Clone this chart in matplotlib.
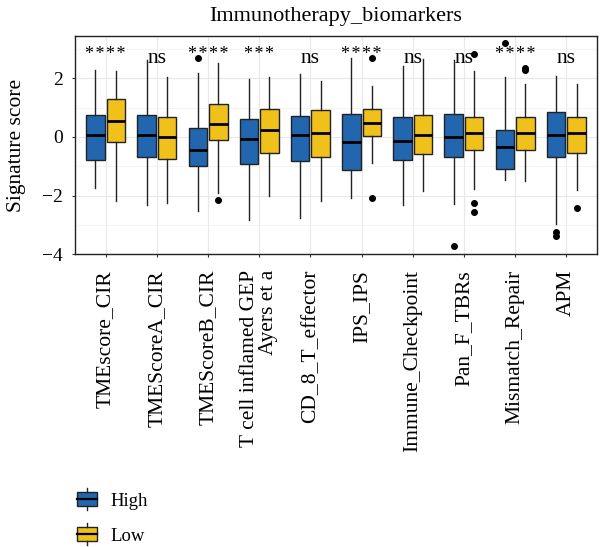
import numpy as np
import matplotlib
matplotlib.use("Agg")
import matplotlib.pyplot as plt
from matplotlib.legend_handler import HandlerBase
from matplotlib.patches import Rectangle
from matplotlib.lines import Line2D

plt.rcParams['font.family'] = ['Liberation Serif', 'DejaVu Serif']

categories = ["TMEscore_CIR", "TMEScoreA_CIR", "TMEScoreB_CIR",
              "T cell inflamed GEP\nAyers et a", "CD_8_T_effector", "IPS_IPS",
              "Immune_Checkpoint", "Pan_F_TBRs", "Mismatch_Repair", "APM"]
signif = ["****", "ns", "****", "***", "ns", "****", "ns", "ns", "****", "ns"]

# five-number summaries: low whisker, Q1, median, Q3, high whisker
high_whislo = [-1.75, -2.32, -2.53, -2.84, -2.78, -2.09, -2.32, -2.30, -1.46, -2.99]
high_q1 = [-0.77, -0.67, -1.00, -0.92, -0.83, -1.13, -0.77, -0.67, -1.10, -0.67]
high_med = [0.06, 0.06, -0.43, -0.08, 0.08, -0.17, -0.12, 0.00, -0.35, 0.06]
high_q3 = [0.75, 0.75, 0.31, 0.60, 0.72, 0.78, 0.69, 0.78, 0.25, 0.85]
high_whishi = [2.30, 2.62, 2.19, 1.98, 2.15, 2.70, 2.44, 2.62, 2.05, 2.09]
high_fliers = [[], [], [2.69], [], [], [], [], [-3.74], [3.20], [-3.25, -3.40]]

low_whislo = [-2.19, -2.27, -1.93, -2.00, -2.19, -0.89, -1.86, -1.78, -1.50, -1.81]
low_q1 = [-0.17, -0.74, -0.09, -0.54, -0.67, 0.02, -0.58, -0.44, -0.46, -0.55]
low_med = [0.55, 0.00, 0.44, 0.25, 0.12, 0.48, 0.08, 0.12, 0.12, 0.15]
low_q3 = [1.29, 0.67, 1.14, 0.97, 0.91, 0.96, 0.75, 0.69, 0.67, 0.67]
low_whishi = [2.25, 2.05, 2.53, 2.05, 1.93, 1.75, 2.65, 2.24, 1.82, 1.81]
low_fliers = [[], [], [-2.17], [], [], [2.70, -2.09], [], [2.84, -2.27, -2.55],
              [2.36, 2.28], [-2.44]]

groups = ["High", "Low"]
colors = ["#2166ae", "#efc11a"]


def make_stats(whislo, q1, med, q3, whishi, fliers):
    return [dict(whislo=a, q1=b, med=c, q3=d, whishi=e, fliers=f)
            for a, b, c, d, e, f in zip(whislo, q1, med, q3, whishi, fliers)]


high_stats = make_stats(high_whislo, high_q1, high_med, high_q3, high_whishi, high_fliers)
low_stats = make_stats(low_whislo, low_q1, low_med, low_q3, low_whishi, low_fliers)

fig = plt.figure(figsize=(6, 5.47), dpi=100)
ax = fig.add_axes([0.125, 0.5356, 0.87, 0.3985])

pos = np.arange(1, len(categories) + 1)
for stats, off, col in [(high_stats, -0.2, colors[0]), (low_stats, 0.2, colors[1])]:
    ax.bxp(stats, positions=pos + off, widths=0.36, patch_artist=True,
           showcaps=False, manage_ticks=False,
           boxprops=dict(facecolor=col, edgecolor="#222222", linewidth=1.0),
           medianprops=dict(color="black", linewidth=2.0),
           whiskerprops=dict(color="#222222", linewidth=1.0),
           flierprops=dict(marker="o", markerfacecolor="black", markeredgecolor="black",
                           markersize=4))

# significance labels above each pair
for p, s in zip(pos, signif):
    if s == "ns":
        ax.text(p, 2.53, s, ha="center", va="baseline", fontsize=15.5)
    else:
        ax.text(p, 2.68, "\u200a".join(s), ha="center", va="baseline", fontsize=13)

ax.set_xlim(0.4, 10.6)
ax.set_ylim(-4, 3.45)
ax.set_yticks([-4, -2, 0, 2])
ax.set_yticklabels(["\u22124", "\u22122", "0", "2"], fontsize=14)
ax.set_yticks([-3, -1, 1, 3], minor=True)
ax.set_xticks(pos)
ax.set_xticklabels(categories, rotation=90, fontsize=15.5, multialignment="right",
                   linespacing=1.0)
ax.tick_params(axis="both", which="major", direction="out", length=2.5, width=0.8,
               color="#333333", labelcolor="black")
ax.tick_params(axis="x", which="major", pad=9)
ax.tick_params(axis="y", which="major", pad=6)
ax.tick_params(axis="y", which="minor", length=0)
ax.grid(True, which="major", color="#e8e8e8", linewidth=0.8)
ax.grid(True, which="minor", axis="y", color="#f2f2f2", linewidth=0.6)
ax.set_axisbelow(True)
for sp in ax.spines.values():
    sp.set_color("#222222")
    sp.set_linewidth(1.0)

ax.set_ylabel("Signature score", fontsize=15.5, labelpad=12)
ax.set_title("Immunotherapy_biomarkers", fontsize=16, pad=10.5)


class BoxHandler(HandlerBase):
    def create_artists(self, legend, orig, xd, yd, width, height, fontsize, trans):
        col = orig.get_facecolor()
        rect = Rectangle((xd, yd), width, height, facecolor=col, edgecolor="#222222",
                         linewidth=1.0, transform=trans)
        mid = Line2D([xd, xd + width], [yd + height / 2] * 2, color="black",
                     linewidth=1.6, transform=trans)
        cx = xd + width / 2
        top = Line2D([cx, cx], [yd + height, yd + height * 1.3],
                     color="#222222", linewidth=1.0, transform=trans)
        bot = Line2D([cx, cx], [yd, yd - height * 0.3],
                     color="#222222", linewidth=1.0, transform=trans)
        return [rect, mid, top, bot]


handles = [Rectangle((0, 0), 1, 1, facecolor=c) for c in colors]
fig.legend(handles, groups, handler_map={Rectangle: BoxHandler()},
           loc="upper left", bbox_to_anchor=(0.115, 0.113), frameon=False,
           fontsize=13.5, handlelength=1.07, handleheight=0.75, labelspacing=0.93,
           handletextpad=0.75, borderaxespad=0)

fig.savefig("out.png", dpi=100)
